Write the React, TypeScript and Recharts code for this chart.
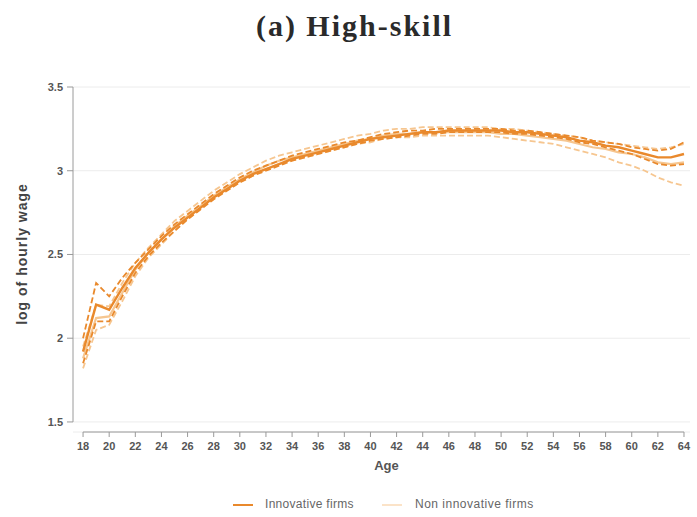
import React from "react";
import { LineChart, Line, XAxis, YAxis, CartesianGrid, ReferenceLine } from "recharts";

const ages = [18,19,20,21,22,23,24,25,26,27,28,29,30,31,32,33,34,35,36,37,38,39,40,41,42,43,44,45,46,47,48,49,50,51,52,53,54,55,56,57,58,59,60,61,62,63,64];

const innovMean = [1.92,2.20,2.17,2.30,2.42,2.51,2.59,2.66,2.72,2.78,2.84,2.89,2.94,2.98,3.01,3.04,3.07,3.09,3.11,3.13,3.15,3.17,3.19,3.20,3.21,3.22,3.23,3.23,3.24,3.24,3.24,3.24,3.24,3.23,3.23,3.22,3.21,3.20,3.18,3.17,3.15,3.14,3.12,3.10,3.08,3.08,3.10];
const innovLow = [1.85,2.10,2.10,2.25,2.39,2.49,2.57,2.64,2.71,2.77,2.83,2.88,2.93,2.97,3.00,3.03,3.06,3.08,3.10,3.12,3.14,3.16,3.18,3.19,3.20,3.21,3.22,3.22,3.23,3.23,3.23,3.23,3.23,3.22,3.22,3.21,3.20,3.19,3.17,3.16,3.14,3.12,3.10,3.07,3.04,3.03,3.04];
const innovHigh = [2.00,2.33,2.25,2.36,2.45,2.53,2.61,2.68,2.74,2.80,2.86,2.91,2.96,3.00,3.03,3.06,3.09,3.11,3.13,3.15,3.17,3.18,3.20,3.22,3.23,3.24,3.24,3.25,3.25,3.25,3.25,3.25,3.25,3.24,3.24,3.23,3.22,3.21,3.20,3.18,3.17,3.16,3.14,3.13,3.12,3.13,3.17];

const nonMean = [1.88,2.12,2.13,2.27,2.41,2.51,2.59,2.67,2.73,2.79,2.85,2.90,2.95,2.99,3.03,3.06,3.08,3.10,3.12,3.14,3.16,3.18,3.19,3.21,3.22,3.22,3.23,3.23,3.23,3.23,3.23,3.23,3.22,3.22,3.21,3.20,3.19,3.18,3.16,3.14,3.13,3.11,3.10,3.08,3.05,3.04,3.05];
const nonLow = [1.82,2.05,2.08,2.22,2.37,2.48,2.56,2.64,2.71,2.77,2.83,2.88,2.93,2.97,3.01,3.04,3.06,3.08,3.10,3.12,3.14,3.16,3.17,3.19,3.20,3.20,3.21,3.21,3.21,3.21,3.21,3.21,3.20,3.19,3.18,3.17,3.16,3.14,3.12,3.10,3.08,3.05,3.03,3.00,2.96,2.93,2.91];
const nonHigh = [1.95,2.20,2.19,2.33,2.45,2.54,2.62,2.70,2.76,2.82,2.88,2.93,2.98,3.02,3.06,3.09,3.11,3.13,3.15,3.17,3.19,3.21,3.22,3.24,3.25,3.25,3.26,3.26,3.26,3.26,3.26,3.26,3.25,3.25,3.24,3.23,3.22,3.21,3.20,3.18,3.17,3.16,3.15,3.14,3.13,3.14,3.16];

const xTicks = [18,20,22,24,26,28,30,32,34,36,38,40,42,44,46,48,50,52,54,56,58,60,62,64];
const yTicks = [1.5,2,2.5,3,3.5];

const data = ages.map((a, i) => ({
  age: a,
  im: innovMean[i], il: innovLow[i], ih: innovHigh[i],
  nm: nonMean[i], nl: nonLow[i], nh: nonHigh[i],
}));

const X_MIN = 17.23;
const X_MAX = 64.46;
const Y_MIN = 1.44;
const Y_MAX = 3.5;

const INNOV = "#E9892C";
const NON = "#F6C690";
const AXIS = "#9a9a9a";
const FONT = "Liberation Sans, Arial, sans-serif";
const tickStyle = { fontSize: 11, fill: "#555", fontFamily: FONT, fontWeight: 700 };

export default function App() {
  return (
    <div style={{ position: "absolute", left: 0, top: 0, width: 697, height: 517, background: "#fff" }}>
      <div style={{ position: "absolute", left: 6, top: 9, width: 697, textAlign: "center", fontFamily: "Liberation Serif, serif", fontWeight: 700, fontSize: 30, letterSpacing: 2, color: "#2a2a2a" }}>
        (a) High-skill
      </div>
      <div style={{ position: "absolute", left: 0, top: 0 }}>
        <LineChart width={697} height={517} data={data} margin={{ top: 87, right: 7, bottom: 45, left: 13 }}>
          <CartesianGrid horizontal vertical={false} stroke="#ececec" />
          <XAxis dataKey="age" type="number" domain={[X_MIN, X_MAX]} ticks={xTicks} allowDataOverflow
            axisLine={false} tickLine={{ stroke: AXIS }} tickSize={5} tick={tickStyle} height={40} tickMargin={5} interval={0} />
          <YAxis type="number" domain={[Y_MIN, Y_MAX]} ticks={yTicks} allowDataOverflow width={60}
            axisLine={false} tickLine={{ stroke: AXIS }} tickSize={6} tick={tickStyle} tickMargin={4} />
          <ReferenceLine segment={[{ x: X_MIN, y: 1.5 }, { x: X_MIN, y: 3.5 }]} stroke={AXIS} strokeWidth={1} ifOverflow="visible" />
          <ReferenceLine segment={[{ x: 18, y: Y_MIN }, { x: 64, y: Y_MIN }]} stroke={AXIS} strokeWidth={1} ifOverflow="visible" />
          <Line dataKey="nl" stroke={NON} strokeWidth={1.8} strokeDasharray="6 3" dot={false} isAnimationActive={false} />
          <Line dataKey="nh" stroke={NON} strokeWidth={1.8} strokeDasharray="6 3" dot={false} isAnimationActive={false} />
          <Line dataKey="nm" stroke={NON} strokeWidth={2.2} dot={false} isAnimationActive={false} />
          <Line dataKey="il" stroke={INNOV} strokeWidth={1.8} strokeDasharray="6 3" dot={false} isAnimationActive={false} />
          <Line dataKey="ih" stroke={INNOV} strokeWidth={1.8} strokeDasharray="6 3" dot={false} isAnimationActive={false} />
          <Line dataKey="im" stroke={INNOV} strokeWidth={2.4} dot={false} isAnimationActive={false} />
        </LineChart>
      </div>
      <div style={{ position: "absolute", left: 0, top: 458, width: 697, textAlign: "center", paddingLeft: 76, boxSizing: "border-box", fontFamily: FONT, fontSize: 13, fontWeight: 700, color: "#555" }}>
        Age
      </div>
      <div style={{ position: "absolute", left: 22, top: 254, transform: "translate(-50%, -50%) rotate(-90deg)", whiteSpace: "nowrap", fontFamily: FONT, fontSize: 14, letterSpacing: 1, fontWeight: 700, color: "#444" }}>
        log of hourly wage
      </div>
      <div style={{ position: "absolute", left: 233, top: 504, width: 20, height: 2, background: INNOV }} />
      <div style={{ position: "absolute", left: 265, top: 497, fontFamily: FONT, fontSize: 12, letterSpacing: 0.3, color: "#666", whiteSpace: "nowrap" }}>
        Innovative firms
      </div>
      <div style={{ position: "absolute", left: 382, top: 504, width: 20, height: 2, background: "#FBE3C8" }} />
      <div style={{ position: "absolute", left: 415, top: 497, fontFamily: FONT, fontSize: 12, letterSpacing: 0.5, color: "#666", whiteSpace: "nowrap" }}>
        Non innovative firms
      </div>
    </div>
  );
}
